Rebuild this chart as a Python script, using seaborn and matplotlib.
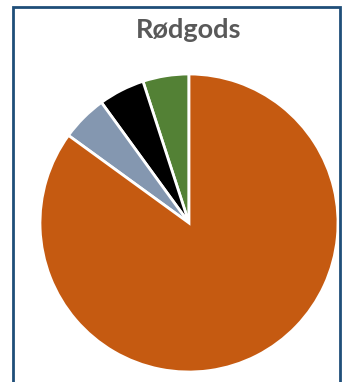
import matplotlib
matplotlib.use('Agg')
import matplotlib.pyplot as plt
import seaborn as sns
from matplotlib.patches import Rectangle

# Slice data (counter-clockwise from 12 o'clock)
categories = ['Grøn', 'Sort', 'Grå', 'Orange']
shares = [5, 5, 5, 85]
colors = ['#538135', '#000000', '#8497B0', '#C55A11']

sns.set_theme(style='white')
plt.rcParams['font.family'] = ['Lato', 'DejaVu Sans']

W, H = 347, 382
fig = plt.figure(figsize=(W / 100, H / 100), dpi=100)

# outer frame
fig.patches.append(Rectangle((13 / W, -0.05), (340 - 13) / W, 1.05 - 7 / H,
                             transform=fig.transFigure, fill=False,
                             edgecolor='#1F4E79', linewidth=2))

cx, cy, r = 189, 223, 149
ax = fig.add_axes([(cx - r) / W, (H - cy - r) / H, 2 * r / W, 2 * r / H])
ax.pie(shares, colors=colors, startangle=90, counterclock=True,
       wedgeprops=dict(edgecolor='white', linewidth=2))
ax.set_xlim(-1, 1)
ax.set_ylim(-1, 1)
ax.set_aspect('equal')
ax.axis('off')

fig.text(189 / W, 1 - 30 / H, 'Rødgods', ha='center', va='center',
         fontsize=19.5, fontweight='bold', color='#595959')

fig.savefig('out.png', dpi=100)
